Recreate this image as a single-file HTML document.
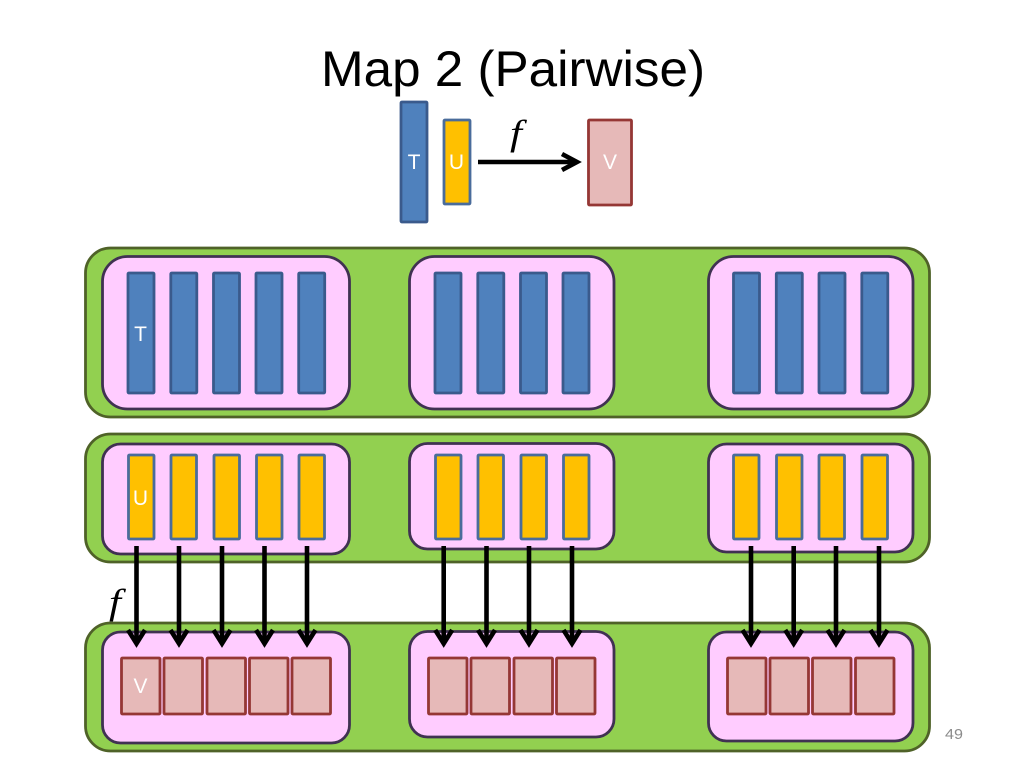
<!DOCTYPE html>
<html>
<head>
<meta charset="utf-8">
<style>
html,body{margin:0;padding:0;background:#fff;}
svg{display:block;}
text{font-family:"Liberation Sans",sans-serif;}
.g{fill:#92D050;stroke:#4F6228;stroke-width:2.800;}
.p{fill:#FFCCFF;stroke:#403152;stroke-width:2.800;}
.t{fill:#4F81BD;stroke:#3A5A8C;stroke-width:2.800;}
.u{fill:#FFC000;stroke:#4A6C9B;stroke-width:2.800;}
.v{fill:#E6B9B8;stroke:#953735;stroke-width:2.800;}
.l{fill:#fff;font-size:21px;text-anchor:middle;}
.f{font-family:"Liberation Serif",serif;font-style:italic;font-size:36px;fill:#000;}
.a{stroke:#000;stroke-width:4.600;fill:none;}
</style>
</head>
<body>
<svg width="1024" height="768" viewBox="0 0 1024 768" xmlns="http://www.w3.org/2000/svg">
<defs>
<rect id="tb" class="t" width="26" height="120" rx="1"/>
<rect id="ub" class="u" width="25.5" height="84" rx="1"/>
<rect id="vb" class="v" width="38.5" height="56" rx="1"/>
<g id="ar"><path class="a" d="M0 546V642"/><path class="a" d="M-8.500 630L0 643.500L8.500 630"/></g>
</defs>
<rect width="1024" height="768" fill="#fff"/>

<text x="321" y="86" font-size="50" textLength="384" lengthAdjust="spacingAndGlyphs" fill="#000">Map 2 (Pairwise)</text>

<use href="#tb" x="401" y="102"/>
<text class="l" x="414" y="169">T</text>
<rect class="u" x="444" y="120" width="26" height="84" rx="1"/>
<text class="l" x="456.500" y="169">U</text>
<rect class="v" x="588.500" y="120" width="43" height="85" rx="1"/>
<text class="l" x="610" y="169">V</text>
<path class="a" d="M478 162H576"/>
<path class="a" d="M562 154L577 162L562 170"/>
<text class="f" transform="translate(510 145) scale(1.2 1)">f</text>

<rect class="g" x="85.500" y="248" width="844" height="169" rx="25"/>
<rect class="g" x="85.500" y="434" width="844" height="128" rx="25"/>
<rect class="g" x="85.500" y="623" width="844" height="128" rx="25"/>

<rect class="p" x="102.500" y="256.500" width="247" height="152.500" rx="25"/>
<rect class="p" x="409.500" y="256.500" width="204.500" height="152.500" rx="25"/>
<rect class="p" x="708.500" y="256.500" width="204.500" height="152.500" rx="25"/>

<rect class="p" x="102.500" y="444" width="247" height="110" rx="18"/>
<rect class="p" x="409.500" y="443.500" width="204.500" height="105.500" rx="18"/>
<rect class="p" x="708.500" y="444" width="204.500" height="108" rx="18"/>

<rect class="p" x="102.500" y="632" width="247" height="111" rx="18"/>
<rect class="p" x="409.500" y="631.500" width="204.500" height="105.500" rx="18"/>
<rect class="p" x="708.500" y="632" width="204.500" height="109" rx="18"/>

<use href="#tb" x="128" y="273"/><use href="#tb" x="170.800" y="273"/><use href="#tb" x="213.500" y="273"/><use href="#tb" x="256" y="273"/><use href="#tb" x="298.700" y="273"/>
<use href="#tb" x="435" y="273"/><use href="#tb" x="477.800" y="273"/><use href="#tb" x="520.500" y="273"/><use href="#tb" x="563" y="273"/>
<use href="#tb" x="733.500" y="273"/><use href="#tb" x="776.300" y="273"/><use href="#tb" x="819" y="273"/><use href="#tb" x="861.800" y="273"/>
<text class="l" x="140.500" y="341">T</text>

<use href="#ub" x="128.500" y="455"/><use href="#ub" x="171" y="455"/><use href="#ub" x="214" y="455"/><use href="#ub" x="256.500" y="455"/><use href="#ub" x="299" y="455"/>
<use href="#ub" x="435.500" y="455"/><use href="#ub" x="478" y="455"/><use href="#ub" x="521" y="455"/><use href="#ub" x="563.500" y="455"/>
<use href="#ub" x="733.500" y="455"/><use href="#ub" x="776.500" y="455"/><use href="#ub" x="819" y="455"/><use href="#ub" x="862" y="455"/>
<text class="l" x="140.500" y="505">U</text>

<use href="#vb" x="121.500" y="658"/><use href="#vb" x="164" y="658"/><use href="#vb" x="207" y="658"/><use href="#vb" x="249.500" y="658"/><use href="#vb" x="292" y="658"/>
<use href="#vb" x="428.500" y="658"/><use href="#vb" x="471" y="658"/><use href="#vb" x="514" y="658"/><use href="#vb" x="556.500" y="658"/>
<use href="#vb" x="727.500" y="658"/><use href="#vb" x="770" y="658"/><use href="#vb" x="812.500" y="658"/><use href="#vb" x="855.500" y="658"/>
<text class="l" x="140.500" y="693">V</text>

<use href="#ar" x="136.500"/><use href="#ar" x="179"/><use href="#ar" x="222"/><use href="#ar" x="264.500"/><use href="#ar" x="307"/>
<use href="#ar" x="443.700"/><use href="#ar" x="486.500"/><use href="#ar" x="529"/><use href="#ar" x="572"/>
<use href="#ar" x="751"/><use href="#ar" x="793.700"/><use href="#ar" x="836"/><use href="#ar" x="879"/>

<text class="f" transform="translate(109 614) scale(1.2 1)">f</text>
<text x="945" y="739" font-size="15" textLength="18" lengthAdjust="spacingAndGlyphs" fill="#8B8B8B">49</text>
</svg>
</body>
</html>
